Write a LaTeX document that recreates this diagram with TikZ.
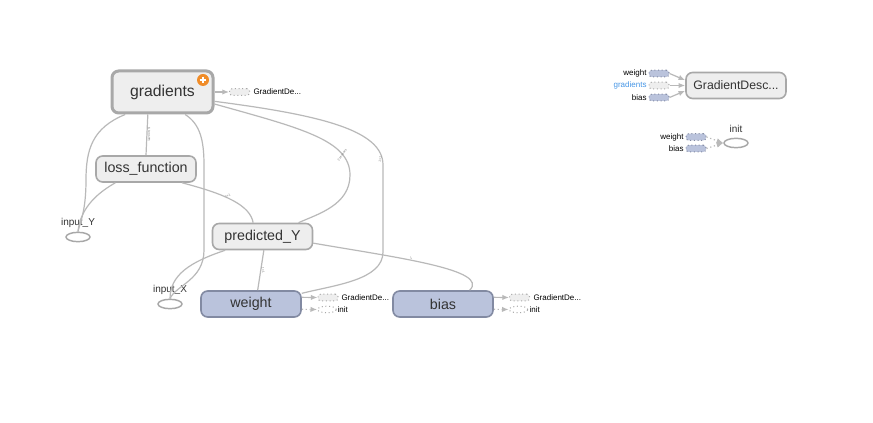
\documentclass[tikz,border=0pt]{standalone}
\usepackage{fontspec}
\setmainfont{Liberation Sans}
\usetikzlibrary{arrows.meta,shapes.geometric}

\definecolor{edgegray}{RGB}{185,185,185}
\definecolor{nodeborder}{RGB}{168,168,168}
\definecolor{nodefill}{RGB}{238,238,238}
\definecolor{varfill}{RGB}{186,195,220}
\definecolor{varborder}{RGB}{130,138,162}
\definecolor{txtgray}{RGB}{51,51,51}
\definecolor{badge}{RGB}{240,140,40}
\definecolor{inblue}{RGB}{70,150,230}

\tikzset{every picture/.style={line width=0.75pt}}
\tikzset{
  opnode/.style={draw=nodeborder, fill=nodefill, line width=1.2pt, rounded corners=5pt,
    minimum width=75pt, minimum height=19.5pt, inner sep=0pt, text=txtgray,
    font=\fontsize{10.7}{12}\selectfont},
  varnode/.style={opnode, draw=varborder, fill=varfill},
  phnode/.style={draw=nodeborder, ellipse, line width=1.1pt, minimum width=18pt,
    minimum height=7pt, inner sep=0pt},
  auxbox/.style={draw=nodeborder, dotted, fill=nodefill, rounded corners=2pt,
    minimum width=15pt, minimum height=5pt, inner sep=0pt},
  auxvar/.style={auxbox, draw=varborder, fill=varfill},
  auxinit/.style={draw=nodeborder, dotted, ellipse, minimum width=14pt,
    minimum height=5pt, inner sep=0pt},
  smalltxt/.style={font=\fontsize{6}{7}\selectfont, text=black, inner sep=0.75pt},
  lbltxt/.style={font=\fontsize{7.5}{9}\selectfont, text=txtgray, inner sep=0.75pt},
  edgelbl/.style={font=\fontsize{2.5}{3}\selectfont, text=gray, sloped, inner sep=0.5pt},
  flow/.style={draw=edgegray, line width=0.9pt},
  auxarrow/.style={draw=edgegray, line width=0.9pt, -{Latex[length=5pt,width=4pt]}},
  auxdotted/.style={auxarrow, dotted}
}

\begin{document}
\begin{tikzpicture}[x=0.75pt,y=0.75pt,yscale=-1,xscale=1]
        \path[use as bounding box, fill=white] (0,0) rectangle (873,423);

        % main graph
        \node[opnode, line width=2.25pt, minimum width=75.75pt, minimum height=31.5pt, font=\fontsize{11.8}{13}\selectfont] (grad) at (162.5,92) {gradients};
        \node[opnode] (loss) at (146,169) {loss\_function};
        \node[opnode] (pred) at (262.5,236.5) {predicted\_Y};
        \node[varnode] (weight) at (251,304) {weight};
        \node[varnode] (bias) at (443,304) {bias};
        \node[phnode] (inY) at (78,237) {};
        \node[phnode] (inX) at (170,304) {};
        \node[lbltxt] (inYlbl) at (78,223) {input\_Y};
        \node[lbltxt] (inXlbl) at (170,290) {input\_X};

        % badge
        \node[circle, fill=badge, minimum size=9pt, inner sep=0pt] (plus) at (203,80) {};
        \draw[white, line width=1.3pt] ([xshift=-2.6pt]plus.center) -- ([xshift=2.6pt]plus.center);
        \draw[white, line width=1.3pt] ([yshift=-2.6pt]plus.center) -- ([yshift=2.6pt]plus.center);

        % auxiliary outputs
        \node[auxbox] (gradaux) at (239.5,92) {};
        \node[smalltxt, anchor=west] (gradauxlbl) at (252,92) {GradientDe...};
        \node[auxbox] (waux) at (328,297.5) {};
        \node[smalltxt, anchor=west] (wauxlbl) at (340,297.5) {GradientDe...};
        \node[auxinit] (winit) at (327,309.5) {};
        \node[smalltxt, anchor=west] (winitlbl) at (336,309.5) {init};
        \node[auxbox] (baux) at (519.5,297.5) {};
        \node[smalltxt, anchor=west] (bauxlbl) at (532,297.5) {GradientDe...};
        \node[auxinit] (binit) at (518.5,309.5) {};
        \node[smalltxt, anchor=west] (binitlbl) at (528,309.5) {init};

        \draw[auxarrow] (grad.east) -- (gradaux.west);
        \draw[auxarrow] ([yshift=-5pt]weight.east) -- (waux.west);
        \draw[auxdotted] ([yshift=-5pt]weight.east) ++(0,12) -- (winit.west);
        \draw[auxarrow] ([yshift=-5pt]bias.east) -- (baux.west);
        \draw[auxdotted] ([yshift=-5pt]bias.east) ++(0,12) -- (binit.west);

        % edges
        \draw[flow] ([xshift=-11pt]grad.south) -- node[edgelbl, above] {6 tensors} (loss.north);
        \draw[flow] ([xshift=-28pt]grad.south) .. controls (92,128) and (86,150) .. (86,180) .. controls (86,212) and (80,222) .. (inY.north);
        \draw[flow] ([xshift=-23pt]loss.south) .. controls (92,196) and (80,212) .. (inY.north);
        \draw[flow] ([xshift=17pt]grad.south) .. controls (200,124) and (204,140) .. (204,165) -- (204,250) .. controls (204,280) and (176,285) .. (inX.north);
        \draw[flow] ([xshift=-28pt]pred.south) .. controls (190,262) and (170,275) .. (inX.north);
        \draw[flow] ([xshift=27pt]loss.south) .. controls (225,194) and (250,205) .. node[edgelbl, above, pos=0.45] {?\texttimes1} ([xshift=-7pt]pred.north);
        \draw[flow] ([yshift=9pt]grad.east) .. controls (300,128) and (350,140) .. node[edgelbl, above, pos=0.8] {2 tensors} (350,175) .. controls (350,205) and (318,214) .. ([xshift=27pt]pred.north);
        \draw[flow] ([yshift=7pt]grad.east) .. controls (320,115) and (383,130) .. node[edgelbl, above, pos=0.95] {1\texttimes1} (383,165) -- (383,252) .. controls (383,280) and (335,285) .. ([yshift=-8pt]weight.east);
        \draw[flow] ([xshift=1pt]pred.south) -- node[edgelbl, above] {1\texttimes1} ([xshift=5pt]weight.north);
        \draw[flow] ([yshift=5pt]pred.east) .. controls (400,258) and (490,270) .. node[edgelbl, above, pos=0.4] {1} ([xshift=20pt]bias.north);

        % train op
        \node[opnode, font=\fontsize{9.2}{11}\selectfont] (gdesc) at (736,85.5) {GradientDesc...};
        \node[auxvar] (gdw) at (659,73.5) {};
        \node[auxbox] (gdg) at (659,85.5) {};
        \node[auxvar] (gdb) at (659,97.5) {};
        \node[smalltxt, anchor=east] (gdwlbl) at (648,73.5) {weight};
        \node[smalltxt, anchor=east, text=inblue] (gdglbl) at (648,85.5) {gradients};
        \node[smalltxt, anchor=east] (gdblbl) at (648,97.5) {bias};
        \draw[auxarrow] (gdw.east) -- ([yshift=-4pt]gdesc.west);
        \draw[auxarrow] (gdg.east) -- (gdesc.west);
        \draw[auxarrow] (gdb.east) -- ([yshift=4pt]gdesc.west);

        % init op
        \node[phnode] (init) at (736,143) {};
        \node[lbltxt] (initlbl) at (736,129) {init};
        \node[auxvar] (iw) at (696,137) {};
        \node[auxvar] (ib) at (696,148.5) {};
        \node[smalltxt, anchor=east] (iwlbl) at (685,137) {weight};
        \node[smalltxt, anchor=east] (iblbl) at (685,148.5) {bias};
        \draw[auxdotted] (iw.east) -- (init.west);
        \draw[auxdotted] (ib.east) -- (init.west);

\end{tikzpicture}
\end{document}
